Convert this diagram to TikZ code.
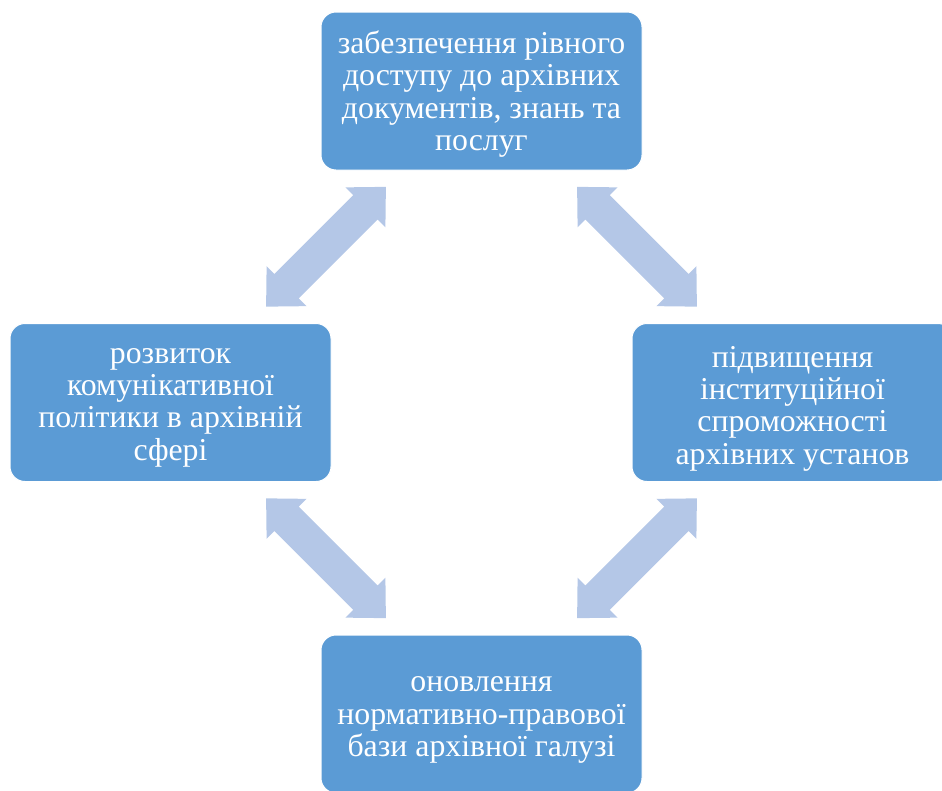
\documentclass[tikz,border=0pt]{standalone}
\usepackage{fontspec}
\setmainfont{Liberation Serif}
\usetikzlibrary{calc}
\definecolor{boxblue}{HTML}{5B9BD5}
\definecolor{arrowblue}{HTML}{B4C7E7}
\tikzset{
  box/.style={rounded corners=15pt, fill=boxblue, draw=white, line width=1pt,
    minimum width=321pt, minimum height=158pt, inner sep=0pt},
  boxtext/.style={align=center, text=white, inner sep=0pt,
    font=\fontsize{31.8}{32.4}\selectfont},
  blockarrow/.style={fill=arrowblue, draw=none}
}
\newcommand\blockarr[2]{%
  \fill[blockarrow, shift={(#1)}, rotate=#2]
    (84.7,0) -- (55.7,28.3) -- (55.7,17.3) -- (-55.7,17.3) -- (-55.7,28.3)
    -- (-84.7,0) -- (-55.7,-28.3) -- (-55.7,-17.3) -- (55.7,-17.3)
    -- (55.7,-28.3) -- cycle;}
\begin{document}
\begin{tikzpicture}[x=1pt,y=-1pt]
\useasboundingbox (0,0) rectangle (942,790);
\clip (0,0) rectangle (942,790);
\node[box] (top) at (481.5,91) {};
\node[box] (left) at (170.5,402.5) {};
\node[box] (right) at (792.5,402.5) {};
\node[box] (bottom) at (481.5,714) {};
\node[boxtext] (topt) at ($(top.center)+(0,3)$) {забезпечення рівного\\доступу до архівних\\документів, знань та\\послуг};
\node[boxtext] (leftt) at ($(left.center)+(0,5)$) {розвиток\\комунікативної\\політики в архівній\\сфері};
\node[boxtext] (rightt) at ($(right.center)+(0,6)$) {підвищення\\інституційної\\спроможності\\архівних установ};
\node[boxtext] (bottomt) at ($(bottom.center)+(0,6)$) {оновлення\\нормативно-правової\\бази архівної галузі};
\coordinate (tl) at ($(top.south west)!0.5!(left.north east)$);
\coordinate (tr) at ($(top.south east)!0.5!(right.north west)$);
\coordinate (bl) at ($(bottom.north west)!0.5!(left.south east)$);
\coordinate (br) at ($(bottom.north east)!0.5!(right.south west)$);
\blockarr{tl}{45}
\blockarr{tr}{-45}
\blockarr{bl}{-45}
\blockarr{br}{45}
\end{tikzpicture}
\end{document}
